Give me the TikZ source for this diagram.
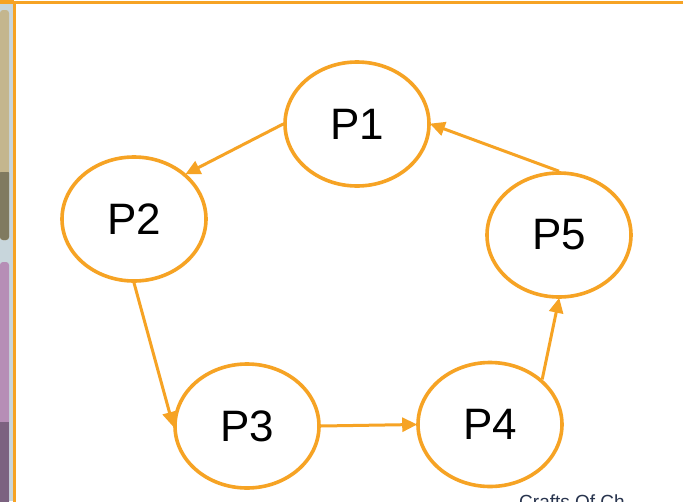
\documentclass[tikz,border=0pt]{standalone}
\usepackage{fontspec}
\setmainfont{Liberation Sans}
\usetikzlibrary{shapes.geometric,arrows.meta}
\definecolor{frameor}{RGB}{246,163,36}
\definecolor{tanA}{RGB}{196,182,142}
\definecolor{tanB}{RGB}{128,122,96}
\definecolor{purA}{RGB}{182,142,182}
\definecolor{purB}{RGB}{124,98,128}
\definecolor{sideblue}{RGB}{200,214,220}
\definecolor{navy}{RGB}{40,52,78}
\tikzset{
  proc/.style={ellipse, draw=frameor, line width=3.6pt, minimum width=144pt, minimum height=124pt, inner sep=0pt, font=\fontsize{44}{44}\selectfont},
  flow/.style={draw=frameor, line width=3pt, -{Triangle[length=15pt,width=14pt]}, shorten >=-1pt}
}
\begin{document}
\begin{tikzpicture}[x=1pt,y=-1pt]
\useasboundingbox (0,0) rectangle (683,501);
\fill[white] (0,0) rectangle (683,501);
% left decorative strips
\fill[sideblue] (0,0) rectangle (13,501);
\fill[tanA, rounded corners=3pt] (0,10) rectangle (9,240);
\fill[tanB, rounded corners=3pt] (0,170) rectangle (9,240);
\fill[tanA] (0,165) rectangle (9,172);
\fill[purA, rounded corners=3pt] (0,262) rectangle (9,510);
\fill[purB] (0,422) rectangle (9,510);
% frame
\draw[frameor, line width=3.5pt] (14.5,520) -- (14.5,2.5) -- (700,2.5);
\fill[frameor] (0,0) rectangle (14,4);
% nodes
\node[proc] (p1) at (357,124) {P1};
\node[proc] (p2) at (134,219) {P2};
\node[proc] (p3) at (247,426) {P3};
\node[proc] (p4) at (490,424.5) {P4};
\node[proc] (p5) at (559,235) {P5};
% connectors
\draw[flow] (p1.west) -- (p2.north east);
\draw[flow] (p2.south) -- (p3.west);
\draw[flow] (p3.east) -- (p4.west);
\draw[flow] (p4.north east) -- (p5.south);
\draw[flow] (p5.north) -- (p1.east);
% caption, cut by the lower edge as in the reference
\node[anchor=north west, inner sep=0pt, text=navy, font=\fontsize{19}{19}\selectfont] (cap) at (519,495) {Crafts Of Ch};
\end{tikzpicture}
\end{document}
